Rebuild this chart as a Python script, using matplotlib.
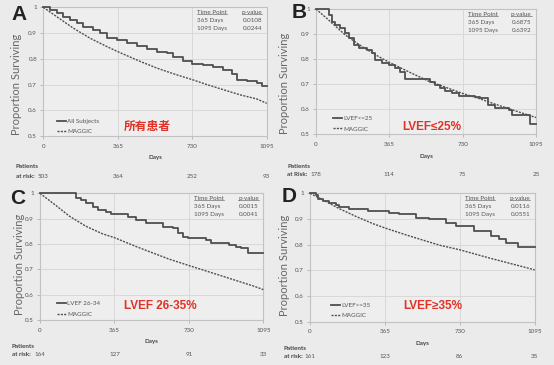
import matplotlib
matplotlib.use('Agg')
import matplotlib.pyplot as plt
from matplotlib.transforms import blended_transform_factory
from matplotlib.lines import Line2D

plt.rcParams['font.family'] = ['Lato', 'DejaVu Sans']

# ---------------- data ----------------
x_ticks = [0, 365, 730, 1095]
y_ticks = [0.5, 0.6, 0.7, 0.8, 0.9, 1.0]
y_tick_labels = ['0.5', '0.6', '0.7', '0.8', '0.9', '1']
time_points = ['365 Days', '1095 Days']

# Panel A - all subjects
days_A = [0, 33, 65, 98, 131, 163, 196, 245, 278, 310, 360, 408, 458, 507, 556, 605, 637,
          686, 727, 784, 833, 882, 923, 948, 997, 1046, 1070, 1095]
surv_A = [1.0, 0.99, 0.977, 0.964, 0.951, 0.938, 0.923, 0.91, 0.9, 0.88, 0.874, 0.863, 0.848,
          0.837, 0.828, 0.822, 0.806, 0.79, 0.779, 0.777, 0.77, 0.757, 0.742, 0.719, 0.712,
          0.706, 0.695, 0.695]
maggic_days_A = [0, 65, 147, 229, 310, 364, 474, 556, 637, 730, 801, 882, 964, 1046, 1095]
maggic_A = [1.0, 0.964, 0.919, 0.88, 0.848, 0.828, 0.79, 0.764, 0.742, 0.719, 0.7, 0.68,
            0.66, 0.644, 0.627]
risk_A = [503, 364, 252, 93]
pvals_A = ['0.0108', '0.0244']

# Panel B - LVEF <= 25
days_B = [0, 46, 63, 80, 96, 121, 146, 163, 187, 212, 254, 279, 295, 328, 362, 395, 420, 445,
          569, 594, 619, 644, 677, 710, 793, 818, 856, 893, 959, 975, 1067, 1095]
surv_B = [1.0, 1.0, 0.976, 0.95, 0.936, 0.923, 0.903, 0.883, 0.856, 0.843, 0.836, 0.823,
          0.797, 0.783, 0.777, 0.763, 0.75, 0.72, 0.71, 0.697, 0.683, 0.674, 0.664, 0.654,
          0.65, 0.644, 0.617, 0.604, 0.597, 0.577, 0.541, 0.541]
maggic_days_B = [0, 63, 146, 229, 312, 365, 478, 561, 644, 730, 810, 893, 975, 1095]
maggic_B = [1.0, 0.956, 0.896, 0.85, 0.81, 0.787, 0.743, 0.712, 0.688, 0.663, 0.643, 0.62,
            0.598, 0.567]
risk_B = [178, 114, 75, 25]
pvals_B = ['0.6875', '0.6392']

# Panel C - LVEF 26-34
days_C = [0, 168, 176, 201, 225, 258, 283, 324, 348, 389, 430, 471, 520, 601, 650, 675, 699,
          724, 814, 838, 928, 961, 985, 1018, 1095]
surv_C = [1.0, 1.0, 0.983, 0.974, 0.961, 0.947, 0.934, 0.928, 0.92, 0.917, 0.908, 0.895,
          0.882, 0.868, 0.862, 0.842, 0.829, 0.822, 0.816, 0.803, 0.796, 0.789, 0.783, 0.766,
          0.766]
maggic_days_C = [0, 78, 144, 225, 307, 365, 471, 552, 634, 730, 797, 879, 961, 1043, 1095]
maggic_C = [1.0, 0.952, 0.91, 0.87, 0.84, 0.825, 0.79, 0.765, 0.74, 0.715, 0.698, 0.677,
            0.656, 0.635, 0.62]
risk_C = [164, 127, 91, 33]
pvals_C = ['0.0015', '0.0041']

# Panel D - LVEF >= 35
days_D = [0, 29, 37, 62, 94, 127, 143, 192, 240, 281, 387, 436, 517, 582, 663, 712, 801,
          882, 923, 956, 972, 1012, 1095]
surv_D = [1.0, 0.992, 0.977, 0.97, 0.961, 0.953, 0.948, 0.94, 0.938, 0.931, 0.925, 0.918,
          0.905, 0.899, 0.886, 0.873, 0.853, 0.834, 0.821, 0.808, 0.805, 0.792, 0.792]
maggic_days_D = [0, 62, 143, 224, 306, 365, 468, 549, 631, 730, 793, 874, 956, 1037, 1095]
maggic_D = [1.0, 0.975, 0.94, 0.91, 0.882, 0.865, 0.838, 0.818, 0.798, 0.78, 0.766, 0.748,
            0.731, 0.714, 0.702]
risk_D = [161, 123, 86, 35]
pvals_D = ['0.0116', '0.0551']

letters = ['A', 'B', 'C', 'D']
legend_labels = ['All Subjects', 'LVEF<=25', 'LVEF 26-34', 'LVEF>=35']
red_labels = ['所有患者', 'LVEF≤25%', 'LVEF 26-35%', 'LVEF≥35%']
risk_titles = ['at risk:', 'at Risk:', 'at risk:', 'at risk:']

# ---------------- layout (pixels) ----------------
W, H = 554, 365
BG = '#ebebeb'
AXBG = '#eeeeee'
LINE = '#4f4f4f'
TXT = '#555555'

panels = [
    dict(box=(43.3, 7.3, 266.7, 136.0), days=days_A, surv=surv_A, md=maggic_days_A, mv=maggic_A,
         risk=risk_A, pv=pvals_A, letter=(19, 14), lab=(0.464, 0.07), leg=(0.061, 0.012),
         ylab=(-0.097, 0.40), pat=(16, 167, 177)),
    dict(box=(316.0, 9.0, 536.0, 134.3), days=days_B, surv=surv_B, md=maggic_days_B, mv=maggic_B,
         risk=risk_B, pv=pvals_B, letter=(299, 13), lab=(0.527, 0.058), leg=(0.077, 0.022),
         ylab=(-0.118, 0.41), pat=(287, 166, 174)),
    dict(box=(40.0, 193.3, 263.3, 320.0), days=days_C, surv=surv_C, md=maggic_days_C, mv=maggic_C,
         risk=risk_C, pv=pvals_C, letter=(18, 198), lab=(0.54, 0.114), leg=(0.076, 0.025),
         ylab=(-0.067, 0.44), pat=(12, 347, 355)),
    dict(box=(310.0, 193.3, 534.7, 321.7), days=days_D, surv=surv_D, md=maggic_days_D, mv=maggic_D,
         risk=risk_D, pv=pvals_D, letter=(289, 197), lab=(0.545, 0.126), leg=(0.093, 0.025),
         ylab=(-0.088, 0.44), pat=(284, 348, 356)),
]

fig = plt.figure(figsize=(W / 100, H / 100), dpi=100, facecolor=BG)

underline_texts = []
for i, p in enumerate(panels):
    l, t, r, b = p['box']
    ax = fig.add_axes([l / W, 1 - b / H, (r - l) / W, (b - t) / H], facecolor=AXBG)
    hpx = b - t
    ax.step(p['days'], p['surv'], where='post', color=LINE, lw=1.3, label=legend_labels[i],
            clip_on=False, zorder=3)
    ax.plot(p['md'], p['mv'], color=LINE, lw=1.0, ls=(0, (1.5, 0.9)), label='MAGGIC',
            clip_on=False, zorder=3)
    ax.set_xlim(0, 1095)
    ax.set_ylim(0.5, 1.0)
    ax.set_xticks(x_ticks)
    ax.set_xticklabels([str(v) for v in x_ticks])
    ax.set_yticks(y_ticks)
    ax.set_yticklabels(y_tick_labels)
    ax.grid(True, color='#d8d8d8', lw=0.7)
    ax.set_axisbelow(True)
    for s in ax.spines.values():
        s.set_color('#c2c2c2')
        s.set_linewidth(0.8)
    ax.tick_params(length=2, width=0.6, color='#b0b0b0', labelsize=4.5, labelcolor=TXT, pad=3.5)
    ax.tick_params(axis='y', pad=2.5)
    ax.set_ylabel('Proportion Surviving', fontsize=8, color='#666666')
    ax.yaxis.set_label_coords(*p['ylab'])

    leg = ax.legend(loc='lower left', bbox_to_anchor=p['leg'], frameon=False, fontsize=4.5,
                    handlelength=1.5, handletextpad=0.15, labelspacing=0.85, borderpad=0,
                    borderaxespad=0)
    for txt in leg.get_texts():
        txt.set_color(TXT)

    # table
    t1 = ax.text(0.69, 0.96, 'Time Point', transform=ax.transAxes, fontsize=4.5, color=TXT,
                 ha='left', va='center')
    t2 = ax.text(0.98, 0.96, 'p-value', transform=ax.transAxes, fontsize=4.5, color=TXT,
                 ha='right', va='center')
    underline_texts += [t1, t2]
    for k, (tp, pvv) in enumerate(zip(time_points, p['pv'])):
        yy = 0.895 - 0.063 * k
        ax.text(0.69, yy, tp, transform=ax.transAxes, fontsize=4.5, color=TXT, ha='left', va='center')
        ax.text(0.98, yy, pvv, transform=ax.transAxes, fontsize=4.5, color=TXT, ha='right', va='center')

    # red label
    ax.text(p['lab'][0], p['lab'][1], red_labels[i], transform=ax.transAxes, fontsize=8.5,
            fontweight='bold', color='#e03226', ha='center', va='center',
            family=['Liberation Sans', 'DejaVu Sans', 'Noto Sans CJK SC'])

    # Days + risk
    ax.text(0.5, -(10 + 12) / hpx, 'Days', transform=ax.transAxes, fontsize=4.5,
            fontweight='bold', color='#444444', ha='center', va='center')
    tr = blended_transform_factory(ax.transData, ax.transAxes)
    px0, py1, py2 = p['pat']
    for xv, n in zip(x_ticks, p['risk']):
        ax.text(xv, (b - py2) / hpx, str(n), transform=tr, fontsize=4.5, color=TXT,
                ha='center', va='center', clip_on=False)
    fig.text(px0 / W, 1 - py1 / H, 'Patients', fontsize=4.5, fontweight='bold', color='#444444',
             ha='left', va='center')
    fig.text(px0 / W, 1 - py2 / H, risk_titles[i], fontsize=4.5, fontweight='bold',
             color='#444444', ha='left', va='center')

    fig.text(p['letter'][0] / W, 1 - p['letter'][1] / H, letters[i], fontsize=15,
             fontweight='bold', color='#222222', ha='center', va='center',
             family=['Liberation Sans', 'DejaVu Sans'])

# underline the table headers
fig.canvas.draw()
rend = fig.canvas.get_renderer()
for t in underline_texts:
    bb = t.get_window_extent(rend)
    yb = bb.y0 + 0.5
    fig.add_artist(Line2D([bb.x0 / W, bb.x1 / W], [yb / H, yb / H], color=TXT, lw=0.4,
                          transform=fig.transFigure))

fig.savefig('out.png', dpi=100, facecolor=BG)
